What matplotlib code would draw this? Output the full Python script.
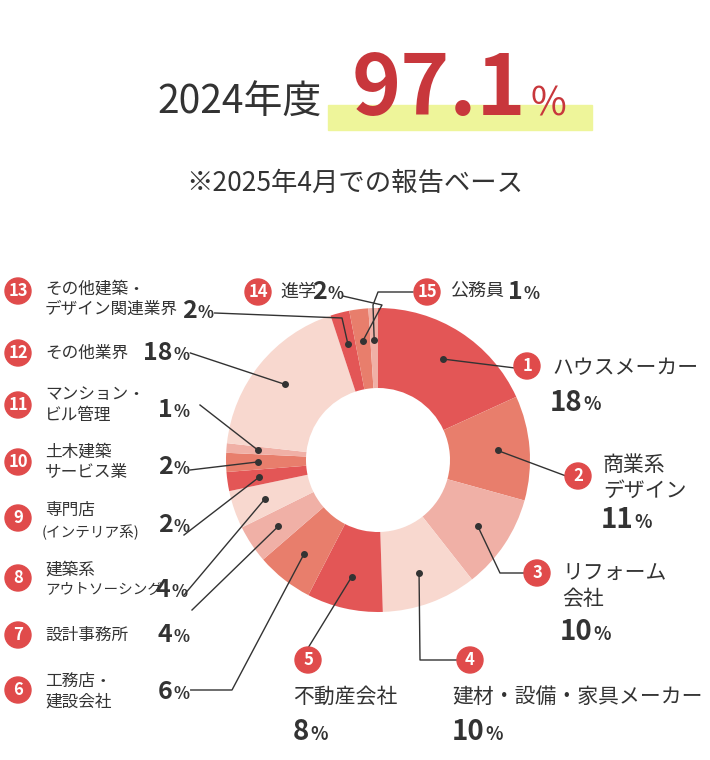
import matplotlib
matplotlib.use("Agg")
import matplotlib.pyplot as plt
import numpy as np
from matplotlib.patches import Circle, Rectangle

plt.rcParams['font.family'] = 'Noto Sans CJK JP'

categories = ["ハウスメーカー", "商業系デザイン", "リフォーム会社", "建材・設備・家具メーカー", "不動産会社",
              "工務店・建設会社", "設計事務所", "建築系アウトソーシング", "専門店(インテリア系)", "土木建築サービス業",
              "マンション・ビル管理", "その他業界", "その他建築・デザイン関連業界", "進学", "公務員"]
values = [18, 11, 10, 10, 8, 6, 4, 4, 2, 2, 1, 18, 2, 2, 1]
rate_year = "2024年度"
rate_value = "97.1"
subtitle = "※2025年4月での報告ベース"

palette = ["#e35656", "#e87e6c", "#f0b0a6", "#f8d8cf"]
colors = [palette[i % 4] for i in range(len(values))]
TXT = "#333333"
BADGE = "#e04b4b"

fig = plt.figure(figsize=(7.1, 7.6), dpi=100)
ax = fig.add_axes([0, 0, 1, 1])

cx, cy, R, r_in = 378, 460, 152, 72
ax.pie(values, colors=colors, center=(cx, cy), radius=R, startangle=270, counterclock=True,
       wedgeprops=dict(width=R - r_in, linewidth=0), frame=True)
ax.set_xlim(0, 710); ax.set_ylim(760, 0); ax.set_aspect('equal'); ax.axis('off')

tot = sum(values)
cum = np.cumsum([0] + values)
dots = []
for i, v in enumerate(values):
    a = np.deg2rad(270 + 360 * (cum[i] + v / 2) / tot)
    rr = (R + r_in) / 2 + 8
    dots.append((cx + rr * np.cos(a), cy + rr * np.sin(a)))

fig.canvas.draw()
rend = fig.canvas.get_renderer()

def num_pct(x, y, num, big=18, small=12, color=TXT):
    t = ax.text(x, y, num, fontsize=big, color=color, va='center', ha='left', fontweight='bold')
    bb = t.get_window_extent(rend).transformed(ax.transData.inverted())
    ax.text(bb.x1 + 1, y + 2, "%", fontsize=small, color=color, va='center', ha='left', fontweight='bold')
    return bb.x1 + 14

def badge(x, y, n):
    ax.add_patch(Circle((x, y), 13, color=BADGE, zorder=5))
    ax.text(x, y, str(n), color='white', fontsize=12, ha='center', va='center', zorder=6, fontweight='bold')

def lbl(x, y, s, fs=12):
    ax.text(x, y, s, fontsize=fs, color=TXT, va='center', ha='left', linespacing=1.25)

def leader(pts, i):
    xs = [p[0] for p in pts] + [dots[i][0]]
    ys = [p[1] for p in pts] + [dots[i][1]]
    ax.plot(xs, ys, color='#333333', lw=1, zorder=4)
    ax.plot(*dots[i], 'o', color='#333333', ms=4, zorder=4)

# Title
ax.add_patch(Rectangle((328, 105), 264, 25, color="#eef59a", zorder=1))
ax.text(322, 103, rate_year, fontsize=28, color=TXT, ha='right', va='center')
t = ax.text(352, 90, rate_value, fontsize=60, color="#c8373c", ha='left', va='center', fontweight='bold', zorder=2)
bb = t.get_window_extent(rend).transformed(ax.transData.inverted())
ax.text(bb.x1 + 4, 104, "%", fontsize=28, color="#c8373c", ha='left', va='center', zorder=2)
ax.text(355, 183, subtitle, fontsize=19, color=TXT, ha='center', va='center')

pct = [str(v) for v in values]
RF = 15

leader([(515, 368)], 0); badge(527, 366, 1); lbl(552, 368, categories[0], RF); num_pct(550, 403, pct[0], 20, 13)
leader([(566, 476)], 1); badge(578, 476, 2); lbl(603, 478, "商業系\nデザイン", RF); num_pct(601, 520, pct[1], 20, 13)
leader([(525, 573), (500, 573)], 2); badge(537, 573, 3); lbl(562, 586, "リフォーム\n会社", RF); num_pct(560, 632, pct[2], 20, 13)
leader([(458, 660), (420, 660)], 3); badge(470, 660, 4); lbl(452, 697, categories[3], RF); num_pct(452, 732, pct[3], 20, 13)
leader([(308, 648)], 4); badge(308, 660, 5); lbl(293, 697, categories[4], RF); num_pct(293, 732, pct[4], 20, 13)

badge(18, 690, 6); lbl(45, 692, "工務店・\n建設会社"); e = num_pct(158, 692, pct[5])
leader([(e + 4, 690), (232, 690)], 5)
badge(18, 635, 7); lbl(45, 635, categories[6]); num_pct(158, 635, pct[6])
leader([(192, 610)], 6)
badge(18, 578, 8); lbl(45, 570, "建築系"); lbl(45, 590, "アウトソーシング", fs=10.5); num_pct(156, 590, pct[7])
leader([(184, 595)], 7)
badge(18, 518, 9); lbl(45, 510, "専門店"); lbl(42, 532, "(インテリア系)", fs=10.5); num_pct(158, 525, pct[8])
leader([(184, 535)], 8)
badge(18, 462, 10); lbl(45, 462, "土木建築\nサービス業"); num_pct(158, 467, pct[9])
leader([(190, 470)], 9)
badge(18, 405, 11); lbl(45, 405, "マンション・\nビル管理"); num_pct(158, 410, pct[10])
leader([(200, 405)], 10)
badge(18, 353, 12); lbl(45, 353, "その他業界"); e = num_pct(143, 353, pct[11])
leader([(e + 4, 353)], 11)
badge(18, 291, 13); lbl(45, 299, "その他建築・\nデザイン関連業界"); e = num_pct(182, 311, pct[12])
leader([(e + 4, 313), (342, 318)], 12)
badge(258, 292, 14); lbl(280, 292, categories[13], 13); e = num_pct(312, 292, pct[13])
leader([(e + 2, 296), (382, 305)], 13)
badge(427, 292, 15); lbl(450, 292, categories[14], 13); num_pct(508, 292, pct[14])
leader([(413, 292), (378, 292), (373, 305)], 14)

fig.savefig("out.png", dpi=100)
